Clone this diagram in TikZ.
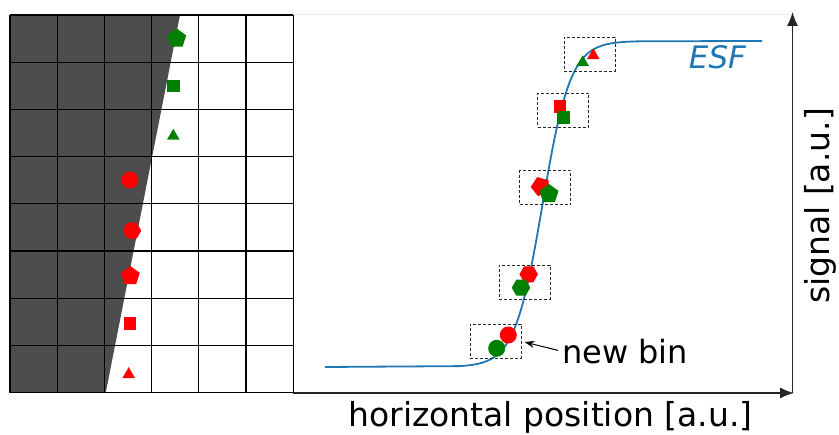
\documentclass[tikz,border=0pt]{standalone}
\usepackage{fontspec}
\setmainfont{DejaVu Sans}
\usetikzlibrary{shapes.geometric,arrows.meta}
\definecolor{esfblue}{RGB}{31,119,180}
\definecolor{edgegray}{RGB}{77,77,77}
\definecolor{mkgreen}{RGB}{0,128,0}
\definecolor{mkred}{RGB}{255,0,0}
\tikzstyle{GridLine}=[black, line width=1.3pt]
\tikzstyle{Marker}=[inner sep=0pt, draw=none]
\tikzstyle{RedMark}=[Marker, fill=mkred]
\tikzstyle{GreenMark}=[Marker, fill=mkgreen]
\tikzstyle{DotMark}=[circle, minimum size=17pt]
\tikzstyle{SqMark}=[rectangle, minimum size=12.5pt]
\tikzstyle{TriMark}=[regular polygon, regular polygon sides=3, minimum size=14.5pt]
\tikzstyle{PentMark}=[regular polygon, regular polygon sides=5, minimum size=20pt]
\tikzstyle{HexMark}=[regular polygon, regular polygon sides=6, minimum size=18.5pt]
\tikzstyle{BinBox}=[rectangle, draw=black!85, line width=1pt, dash pattern=on 3pt off 2pt, minimum width=51pt, minimum height=34pt]
\tikzstyle{Axis}=[->, line width=1.4pt, black!85]
\tikzstyle{PointerEdge}=[-{Stealth[length=10pt,width=7pt]}, line width=1pt, shorten <=4pt, shorten >=3pt]
\tikzstyle{ESFCurve}=[esfblue, line width=1.8pt]
\tikzstyle{Label}=[inner sep=0pt, font=\fontsize{33}{40}\selectfont]
\tikzset{>={Latex[length=14pt,width=11pt]}}

\begin{document}
\begin{tikzpicture}[x=1pt, y=-1pt]
\useasboundingbox (0,0) rectangle (839,435);
\fill[edgegray] (10,15) -- (180,15) -- (105.7,393) -- (10,393) -- cycle;
\foreach \i in {0,...,6} \draw[GridLine] (10+47.2*\i,15) -- (10+47.2*\i,393);
\foreach \j in {0,...,8} \draw[GridLine] (10,15+47.2*\j) -- (293.2,15+47.2*\j);

\node[GreenMark, PentMark](GPentL) at (176.7,38.5) {};
\node[GreenMark, SqMark](GSqL) at (173.7,86) {};
\node[GreenMark, TriMark](GTriL) at (173.3,136) {};
\node[RedMark, DotMark](RDotL) at (130,180) {};
\node[RedMark, HexMark](RHexL) at (132,230.7) {};
\node[RedMark, PentMark](RPentL) at (130.3,276) {};
\node[RedMark, SqMark](RSqL) at (130,323.3) {};
\node[RedMark, TriMark](RTriL) at (128.7,374.4) {};

\draw[black!8, line width=1pt] (293.2,15) -- (790,15);
\coordinate (XStart) at (293.2,393);
\coordinate (XEnd) at (794,393);
\coordinate (Corner) at (792.5,393);
\coordinate (YEnd) at (792.5,12);
\draw[Axis] (XStart) -- (XEnd);
\draw[Axis] (Corner) -- (YEnd);

\draw[ESFCurve] (325,367) -- plot[domain=460:640, samples=90] (\x,{367-326/(1+exp(-(\x-542.6)/14))}) -- (762,41);

\node[BinBox](Bin1) at (589.7,54.2) {};
\node[BinBox](Bin2) at (563.2,110.5) {};
\node[BinBox](Bin3) at (545,188) {};
\node[BinBox](Bin4) at (524.5,282.2) {};
\node[BinBox](Bin5) at (495.5,341.3) {};

\node[RedMark, TriMark](RTri) at (593.3,55.5) {};
\node[GreenMark, TriMark](GTri) at (582.7,62.5) {};
\node[RedMark, SqMark](RSq) at (560,106.7) {};
\node[GreenMark, SqMark](GSq) at (563.3,117.3) {};
\node[RedMark, PentMark, rotate=20](RPent) at (540.7,186.5) {};
\node[GreenMark, PentMark](GPent) at (549,194) {};
\node[RedMark, HexMark](RHex) at (528.7,274.3) {};
\node[GreenMark, HexMark](GHex) at (521,287.7) {};
\node[RedMark, DotMark](RDot) at (508.3,335) {};
\node[GreenMark, DotMark](GDot) at (496.7,348.3) {};

\node[Label, font=\fontsize{31}{37}\selectfont\itshape, text=esfblue, anchor=base](ESFLbl) at (717.5,68.3) {ESF};
\node[Label, font=\fontsize{32}{38}\selectfont, anchor=base west](NewBinLbl) at (562,363.3) {new bin};
\draw[PointerEdge] (NewBinLbl.west) -- (Bin5.east);

\node[Label, anchor=base](XLbl) at (550.5,427) {horizontal position [a.u.]};
\node[Label, anchor=base, rotate=90](YLbl) at (829,206) {signal [a.u.]};
\end{tikzpicture}
\end{document}
